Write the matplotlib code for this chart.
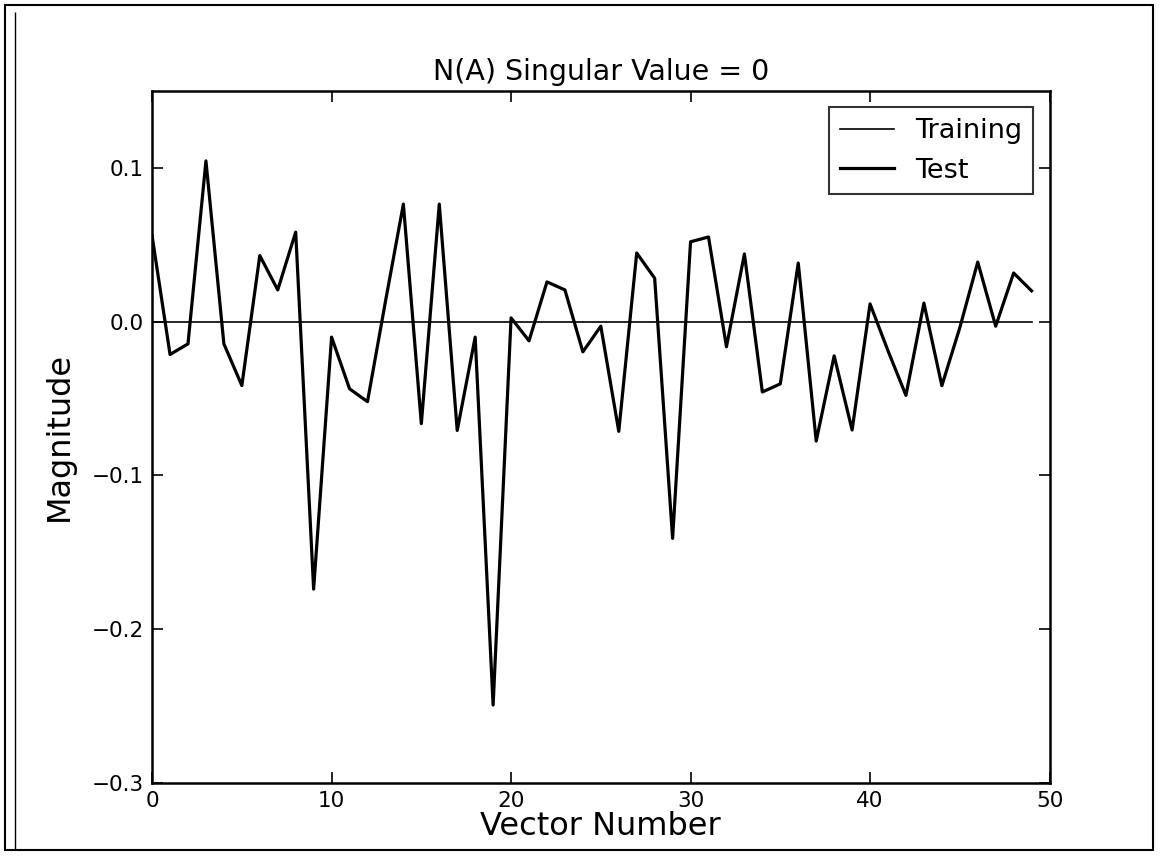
import matplotlib
matplotlib.use("Agg")
import matplotlib.pyplot as plt
from matplotlib.patches import Rectangle

# Singular-vector components for the zero singular value
vector_number = list(range(50))
training = [0.0] * 50
test = [
    0.0557, -0.0214, -0.0145, 0.1045, -0.0145, -0.0416, 0.0429, 0.0206, 0.0582, -0.1740,
    -0.0101, -0.0437, -0.0521, 0.0130, 0.0764, -0.0664, 0.0764, -0.0708, -0.0101, -0.2494,
    0.0024, -0.0125, 0.0258, 0.0206, -0.0197, -0.0030, -0.0714, 0.0446, 0.0282, -0.1410,
    0.0519, 0.0550, -0.0164, 0.0440, -0.0458, -0.0405, 0.0381, -0.0777, -0.0223, -0.0705,
    0.0115, -0.0190, -0.0480, 0.0120, -0.0417, -0.0040, 0.0387, -0.0030, 0.0316, 0.0200,
]
x_ticks = [0, 10, 20, 30, 40, 50]
y_ticks = [-0.3, -0.2, -0.1, 0.0, 0.1]

plt.rcParams["font.family"] = ["DejaVu Sans"]

fig = plt.figure(figsize=(11.61, 8.66), dpi=100, facecolor="white")
ax = fig.add_axes([0.131, 0.096, 0.773, 0.799])

ax.plot(vector_number, training, color="black", lw=1.2, label="Training")
ax.plot(vector_number, test, color="black", lw=2.3, label="Test")

ax.set_xlim(0, 50)
ax.set_ylim(-0.3, 0.15)
ax.set_xticks(x_ticks)
ax.set_yticks(y_ticks)
ax.set_yticklabels([f"{v:.1f}".replace("-", "\u2212") for v in y_ticks])
ax.tick_params(direction="in", length=8, width=1.2, top=True, right=True,
               labelsize=15.5, pad=6)
for s in ax.spines.values():
    s.set_linewidth(1.8)

ax.set_title("N(A) Singular Value = 0", fontsize=20.5, pad=8)
ax.set_xlabel("Vector Number", fontsize=23, labelpad=0)
ax.set_ylabel("Magnitude", fontsize=23, labelpad=12)

leg = ax.legend(loc="upper right", fontsize=19.5, frameon=True, fancybox=False,
                handlelength=2.0, borderaxespad=0.6)
leg.get_frame().set_edgecolor("black")
leg.get_frame().set_linewidth(1.5)

# Page frame around the figure
fig.patches.append(Rectangle((5 / 1161, 1 - 850 / 866), 1148 / 1161, 845 / 866,
                             transform=fig.transFigure, fill=False,
                             edgecolor="black", lw=1.5))
fig.patches.append(Rectangle((15 / 1161, 1 - 850 / 866), 0, 838 / 866,
                             transform=fig.transFigure, fill=False,
                             edgecolor="black", lw=1.0))

fig.savefig("out.png", dpi=100, facecolor="white")
